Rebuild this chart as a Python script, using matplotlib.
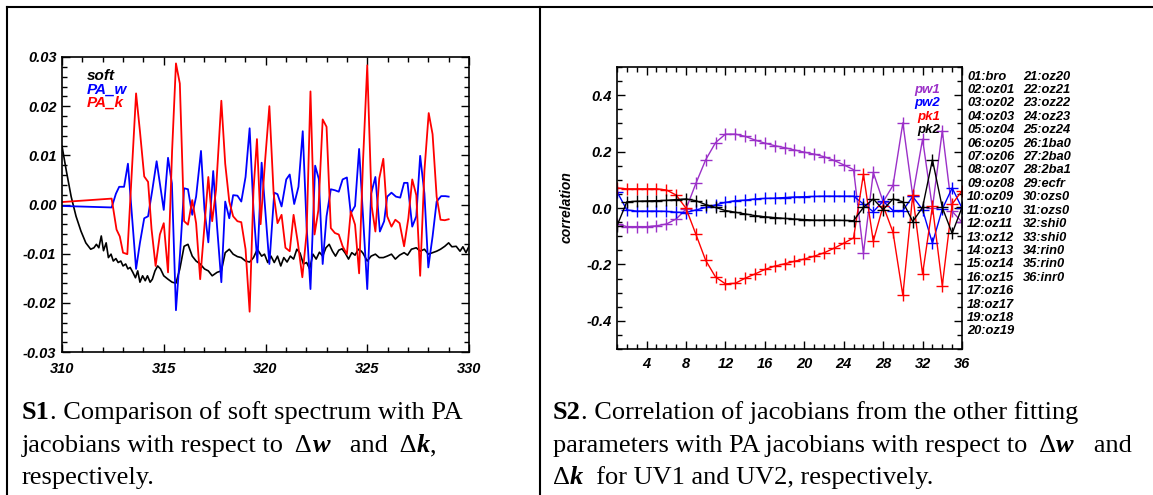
import matplotlib
matplotlib.use('Agg')
import matplotlib.pyplot as plt
from matplotlib.ticker import MultipleLocator, FormatStrFormatter
from matplotlib.transforms import IdentityTransform
from matplotlib.lines import Line2D

# ---- S1 data: soft spectrum and PA jacobians ----
soft_x = [310.0, 310.21, 310.45, 310.69, 310.93, 311.17, 311.41, 311.57, 311.69, 311.81,
          311.93, 312.04, 312.17, 312.28, 312.41, 312.52, 312.65, 312.76, 312.89, 313.0,
          313.13, 313.24, 313.35, 313.48, 313.61, 313.72, 313.83, 313.96, 314.09, 314.2,
          314.33, 314.44, 314.57, 314.7, 314.84, 315.0, 315.21, 315.41, 315.6, 315.79,
          316.0, 316.19, 316.4, 316.59, 316.79, 317.0, 317.19, 317.38, 317.62, 317.83,
          318.02, 318.22, 318.41, 318.62, 318.81, 319.02, 319.22, 319.41, 319.6, 319.81,
          319.95, 320.11, 320.27, 320.43, 320.59, 320.75, 320.9, 321.06, 321.22, 321.38,
          321.54, 321.7, 321.86, 322.02, 322.17, 322.33, 322.49, 322.65, 322.81, 322.97,
          323.13, 323.29, 323.44, 323.6, 323.76, 323.92, 324.08, 324.24, 324.4, 324.56,
          324.71, 324.79, 325.0, 325.19, 325.4, 325.59, 325.79, 325.98, 326.19, 326.38,
          326.59, 326.81, 326.98, 327.17, 327.41, 327.6, 327.81, 328.0, 328.21, 328.41,
          328.6, 328.81, 329.0, 329.16, 329.37, 329.56, 329.7, 329.85, 330.0]
soft_y = [0.0119, 0.0069, 0.0016, -0.0024, -0.0054, -0.0078, -0.0091, -0.0088, -0.0081, -0.0088,
          -0.0064, -0.0094, -0.0078, -0.0108, -0.0101, -0.0115, -0.011, -0.0118, -0.0115, -0.0125,
          -0.0121, -0.0131, -0.0128, -0.0138, -0.0149, -0.0135, -0.0158, -0.0145, -0.0155, -0.0145,
          -0.0158, -0.0152, -0.0135, -0.0125, -0.0131, -0.0145, -0.0152, -0.0158, -0.016, -0.0131,
          -0.0085, -0.0081, -0.0105, -0.0115, -0.0121, -0.0131, -0.0135, -0.0145, -0.0138, -0.0135,
          -0.0098, -0.0091, -0.0101, -0.0106, -0.0108, -0.0115, -0.0117, -0.0108, -0.0091, -0.0105,
          -0.0101, -0.0118, -0.0105, -0.0118, -0.0105, -0.0125, -0.0108, -0.0117, -0.0105, -0.0111,
          -0.0091, -0.0099, -0.0121, -0.0118, -0.0131, -0.0101, -0.0111, -0.0097, -0.0105, -0.0088,
          -0.0081, -0.0095, -0.0105, -0.0093, -0.009, -0.0099, -0.0111, -0.0098, -0.0103, -0.0091,
          -0.0095, -0.0099, -0.0115, -0.0105, -0.0101, -0.0108, -0.0108, -0.0105, -0.0101, -0.0111,
          -0.0103, -0.0098, -0.0103, -0.0091, -0.0088, -0.0095, -0.0091, -0.0101, -0.0098, -0.0095,
          -0.0091, -0.0085, -0.0078, -0.0086, -0.0085, -0.0095, -0.0086, -0.0098, -0.0085]

paw_x = [310.0, 312.44, 312.65, 312.81, 313.05, 313.24, 313.64, 313.83, 314.04, 314.23,
         314.44, 314.65, 315.0, 315.21, 315.4, 315.6, 315.8, 316.0, 316.19, 316.4,
         316.59, 316.83, 317.0, 317.19, 317.43, 317.62, 317.83, 318.02, 318.22, 318.41,
         318.62, 318.81, 319.02, 319.22, 319.41, 319.6, 319.81, 320.19, 320.43, 320.59,
         320.79, 321.02, 321.19, 321.41, 321.62, 321.83, 322.02, 322.21, 322.44, 322.62,
         322.81, 323.0, 323.21, 323.41, 323.6, 323.79, 324.0, 324.19, 324.4, 324.6,
         325.0, 325.19, 325.4, 325.62, 325.83, 325.98, 326.19, 326.41, 326.62, 326.81,
         326.98, 327.21, 327.41, 327.6, 327.81, 328.0, 328.21, 328.41, 328.63, 328.84, 329.0]
paw_y = [-0.0003, -0.0006, 0.0022, 0.0036, 0.0036, 0.0083, -0.0131, -0.0078, -0.0028, -0.0024,
         0.003, 0.0088, -0.0011, 0.0095, 0.0043, -0.0215, -0.01, 0.0033, 0.0031, -0.0021,
         0.0016, 0.0109, -0.001, -0.0077, 0.0068, -0.0045, -0.0158, 0.0006, -0.0028, 0.0019,
         0.0018, 0.0006, 0.0056, 0.0155, -0.0011, -0.0118, 0.0085, -0.0121, 0.0024, 0.0021,
         -0.0004, 0.0051, 0.0061, 0.0001, 0.0036, 0.0149, -0.0044, -0.0172, 0.0079, 0.0052,
         -0.0121, -0.0024, 0.0031, 0.0029, 0.0026, 0.0051, 0.0055, -0.0018, -0.0003, 0.0113,
         -0.0172, 0.0022, 0.0056, -0.0055, -0.0034, 0.0016, 0.0024, 0.0016, 0.0014, 0.0044,
         0.0044, -0.0045, -0.0024, 0.0099, 0.0022, -0.0128, -0.0065, 0.0006, 0.0017, 0.0017, 0.0016]

pak_x = [310.0, 312.44, 312.68, 312.84, 313.0, 313.21, 313.64, 313.83, 314.04, 314.23,
         314.4, 314.6, 314.81, 315.0, 315.21, 315.41, 315.6, 315.79, 316.0, 316.19,
         316.4, 316.59, 316.79, 317.0, 317.19, 317.38, 317.57, 317.83, 318.02, 318.22,
         318.41, 318.62, 318.81, 319.02, 319.22, 319.41, 319.58, 319.76, 319.98, 320.19,
         320.4, 320.59, 320.79, 320.98, 321.19, 321.38, 321.59, 321.81, 322.02, 322.21,
         322.41, 322.6, 322.81, 323.0, 323.21, 323.41, 323.6, 323.79, 324.0, 324.19,
         324.4, 324.6, 324.79, 325.0, 325.22, 325.4, 325.59, 325.79, 325.98, 326.19,
         326.38, 326.59, 326.81, 327.02, 327.21, 327.41, 327.6, 327.81, 328.02, 328.21,
         328.41, 328.6, 328.81, 329.0]
pak_y = [0.0005, 0.0012, -0.0051, -0.0065, -0.0098, -0.0101, 0.0226, 0.0149, 0.0057, 0.0046,
         -0.005, -0.0125, -0.0061, -0.0038, -0.0138, 0.0109, 0.0287, 0.0246, -0.0034, -0.0041,
         0.0009, -0.0038, -0.0152, -0.0044, 0.0056, -0.0034, 0.003, 0.0211, 0.0083, 0.0006,
         -0.0024, -0.0034, -0.0036, -0.0091, -0.0218, 0.0029, 0.0133, -0.004, 0.0089, 0.02,
         0.0022, -0.0038, -0.0021, -0.0088, -0.0095, -0.0021, -0.0078, -0.0148, -0.0058, 0.023,
         -0.0061, -0.0011, 0.0173, 0.0158, -0.0048, -0.0058, -0.0061, -0.0085, -0.0101, -0.0014,
         -0.0041, -0.014, 0.0086, 0.0283, -0.0004, -0.0055, 0.0053, 0.0093, -0.0024, -0.0045,
         -0.0031, -0.0038, -0.0085, -0.0028, 0.0051, 0.0019, -0.0145, 0.0069, 0.0186, 0.0143,
         0.0016, -0.0031, -0.0032, -0.003]

# ---- S2 data: correlations for parameters 1..36 ----
param_idx = list(range(1, 37))
pw1 = [-0.057, -0.066, -0.066, -0.066, -0.063, -0.057, -0.039, -0.004, 0.087, 0.171,
       0.232, 0.262, 0.262, 0.254, 0.241, 0.230, 0.221, 0.214, 0.206, 0.198,
       0.191, 0.182, 0.169, 0.153, 0.136, -0.160, 0.126, 0.022, 0.080, 0.302,
       0.044, 0.244, 0.000, 0.274, -0.012, -0.050]
pw2 = [0.058, -0.007, -0.011, -0.011, -0.011, -0.012, -0.015, -0.016, -0.007, 0.002,
       0.011, 0.020, 0.026, 0.028, 0.032, 0.034, 0.035, 0.037, 0.039, 0.040,
       0.041, 0.042, 0.042, 0.042, 0.042, 0.014, -0.013, 0.024, -0.009, -0.009,
       0.041, -0.006, -0.125, -0.004, 0.071, 0.000]
pk1 = [0.071, 0.068, 0.068, 0.068, 0.068, 0.064, 0.046, -0.001, -0.093, -0.186,
       -0.245, -0.269, -0.267, -0.249, -0.234, -0.218, -0.206, -0.198, -0.189, -0.181,
       -0.171, -0.159, -0.143, -0.125, -0.106, 0.120, -0.118, 0.008, -0.086, -0.310,
       0.046, -0.234, 0.006, -0.275, 0.014, 0.061]
pk2 = [-0.063, 0.022, 0.024, 0.025, 0.026, 0.027, 0.030, 0.032, 0.026, 0.012,
       0.002, -0.009, -0.015, -0.021, -0.027, -0.031, -0.034, -0.037, -0.039, -0.041,
       -0.043, -0.043, -0.043, -0.044, -0.045, 0.002, 0.032, -0.006, 0.032, 0.022,
       -0.048, 0.002, 0.171, 0.002, -0.090, 0.002]
param_names = ['01:bro', '02:oz01', '03:oz02', '04:oz03', '05:oz04', '06:oz05', '07:oz06',
               '08:oz07', '09:oz08', '10:oz09', '11:oz10', '12:oz11', '13:oz12', '14:oz13',
               '15:oz14', '16:oz15', '17:oz16', '18:oz17', '19:oz18', '20:oz19',
               '21:oz20', '22:oz21', '23:oz22', '24:oz23', '25:oz24', '26:1ba0', '27:2ba0',
               '28:2ba1', '29:ecfr', '30:ozs0', '31:ozs0', '32:shi0', '33:shi0', '34:rin0',
               '35:rin0', '36:inr0']

plt.rcParams['axes.unicode_minus'] = False
plt.rcParams['font.family'] = ['Liberation Sans', 'DejaVu Sans']
plt.rcParams['font.weight'] = 'bold'
plt.rcParams['font.style'] = 'italic'
plt.rcParams['font.size'] = 10.5

W, H = 1153, 495
fig = plt.figure(figsize=(W / 100, H / 100), dpi=100)
PX = IdentityTransform()


def px_axes(x0, y0, x1, y1):
    # pixel box with top-left origin
    return fig.add_axes([x0 / W, 1 - y1 / H, (x1 - x0) / W, (y1 - y0) / H])


def idl_style(ax):
    for s in ax.spines.values():
        s.set_linewidth(1.2)
    ax.tick_params(which='both', direction='in', top=True, right=True, width=1)
    ax.tick_params(which='major', length=6)
    ax.tick_params(which='minor', length=3.5)


# ---- left plot ----
ax1 = px_axes(62, 57, 469, 352)
ax1.plot(soft_x, soft_y, color='black', lw=1.2)
ax1.plot(paw_x, paw_y, color='#0000ff', lw=1.3)
ax1.plot(pak_x, pak_y, color='#ff0000', lw=1.3)
ax1.set_xlim(310, 330)
ax1.set_ylim(-0.03, 0.03)
ax1.xaxis.set_major_locator(MultipleLocator(5))
ax1.xaxis.set_minor_locator(MultipleLocator(1))
ax1.yaxis.set_major_locator(MultipleLocator(0.01))
ax1.yaxis.set_minor_locator(MultipleLocator(0.002))
ax1.yaxis.set_major_formatter(FormatStrFormatter('%.2f'))
idl_style(ax1)
ax1.tick_params(axis='x', pad=7)
ax1.tick_params(axis='y', pad=4)
for i, (txt, c) in enumerate([('soft', 'black'), ('PA_w', '#0000ff'), ('PA_k', '#ff0000')]):
    fig.text(87, H - (76 + 13.3 * i), txt, color=c, size=11, va='center', transform=PX)

# ---- right plot ----
ax2 = px_axes(617, 67, 962, 349)
for vals, c in [(pw1, '#9b30c8'), (pw2, '#0000ff'), (pk1, '#ff0000'), (pk2, 'black')]:
    ax2.plot(param_idx, vals, color=c, lw=1, marker='+', ms=8, mew=1)
ax2.set_xlim(1, 36)
ax2.set_ylim(-0.5, 0.5)
ax2.xaxis.set_major_locator(MultipleLocator(4))
ax2.xaxis.set_minor_locator(MultipleLocator(1))
ax2.yaxis.set_major_locator(MultipleLocator(0.2))
ax2.yaxis.set_minor_locator(MultipleLocator(0.05))
ax2.yaxis.set_major_formatter(FormatStrFormatter('%.1f'))
idl_style(ax2)
ax2.tick_params(axis='x', pad=6)
ax2.tick_params(axis='y', pad=4)
fig.text(567, H - 207, 'correlation', rotation=90, size=10, ha='center', va='center', transform=PX)
for i, (txt, c) in enumerate([('pw1', '#9b30c8'), ('pw2', '#0000ff'), ('pk1', '#ff0000'), ('pk2', 'black')]):
    fig.text(940, H - (89.5 + 13.6 * i), txt, color=c, size=9.5, ha='right', va='center', transform=PX)
for i, name in enumerate(param_names):
    col, row = divmod(i, 20)
    fig.text(967 + 56 * col, H - (76.5 + 13.42 * row), name, size=9.3, va='center', transform=PX)

# ---- table frame ----
fig.add_artist(Line2D([7, W], [H - 7, H - 7], transform=PX, color='black', lw=1.5))
fig.add_artist(Line2D([7, 7], [0, H - 7], transform=PX, color='black', lw=1.5))
fig.add_artist(Line2D([540, 540], [0, H - 7], transform=PX, color='black', lw=1.5))

# ---- captions ----
renderer = fig.canvas.get_renderer()
CAP = dict(family='Liberation Serif', size=19, transform=PX, va='baseline')


def width(s, **kw):
    t = fig.text(0, 0, s + '|', **CAP, **kw)
    t2 = fig.text(0, 0, '|', **CAP, **kw)
    w = t.get_window_extent(renderer).width - t2.get_window_extent(renderer).width
    t.remove()
    t2.remove()
    return w


def caption(x, y, parts):
    for s, kw in parts:
        fig.text(x, H - y, s, **CAP, **kw)
        x += width(s, **kw)


N = dict(style='normal', weight='normal')
B = dict(style='normal', weight='bold')
BI = dict(style='italic', weight='bold')

caption(22, 419, [('S1', B), ('. Comparison of soft spectrum with PA', N)])
caption(22, 452, [('jacobians with respect to  \u0394', N), ('w', BI), ('   and  \u0394', N),
                  ('k', BI), (',', N)])
caption(22, 484, [('respectively.', N)])
caption(553, 419, [('S2', B), ('. Correlation of jacobians from the other fitting', N)])
caption(553, 452, [('parameters with PA jacobians with respect to  \u0394', N), ('w', BI),
                   ('   and', N)])
caption(553, 484, [('\u0394', N), ('k', BI), ('  for UV1 and UV2, respectively.', N)])

fig.savefig('out.png', dpi=100)
